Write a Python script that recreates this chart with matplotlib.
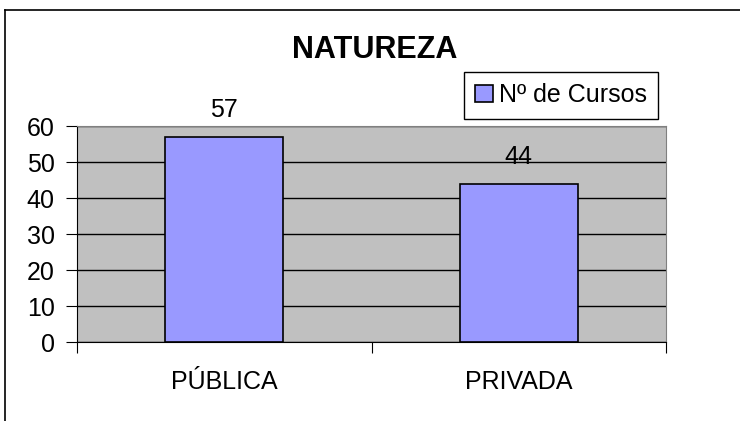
import matplotlib.pyplot as plt
from matplotlib.lines import Line2D

categorias = ['PÚBLICA', 'PRIVADA']
cursos = [57, 44]
serie = 'Nº de Cursos'
titulo = 'NATUREZA'

plt.rcParams['font.family'] = ['Liberation Sans', 'DejaVu Sans']
fs = 18

fig = plt.figure(figsize=(7.4, 4.21), dpi=100)
ax = fig.add_axes([77/740, 1 - 342/421, (666 - 77)/740, (342 - 126)/421])

# moldura externa (cortada na direita e embaixo)
fig.add_artist(Line2D([5/740, 1.0], [1 - 10/421, 1 - 10/421], color='black', lw=1.2))
fig.add_artist(Line2D([5/740, 5/740], [0, 1 - 10/421], color='black', lw=1.2))

ax.set_facecolor('#C0C0C0')
pos = list(range(len(categorias)))
barras = ax.bar(pos, cursos, width=0.4, color='#9999FF', edgecolor='black', linewidth=1.2, label=serie, zorder=3)

for b, v in zip(barras, cursos):
    ax.annotate(str(v), (b.get_x() + b.get_width()/2, v), xytext=(0, 14), textcoords='offset points',
                ha='center', va='baseline', fontsize=fs)

ax.set_xlim(-0.5, len(categorias) - 0.5)
ax.set_ylim(0, 60)
ax.set_yticks(range(0, 61, 10))
ax.yaxis.grid(True, color='black', lw=1, zorder=1)
ax.set_axisbelow(True)

ax.set_xticks([i - 0.5 for i in range(len(categorias) + 1)])
ax.set_xticklabels([])
ax.set_xticks(pos, minor=True)
ax.set_xticklabels(categorias, minor=True)
ax.tick_params(axis='x', which='major', direction='out', length=8, color='black')
ax.tick_params(axis='x', which='minor', length=0, pad=20, labelsize=fs)
ax.tick_params(axis='y', direction='out', length=8, labelsize=fs, pad=8)

ax.spines['top'].set_color('#808080')
ax.spines['right'].set_color('#808080')
ax.spines['left'].set_color('black')
ax.spines['bottom'].set_color('black')

fig.text(375/740, 1 - 58/421, titulo, ha='center', va='baseline', fontsize=22, fontweight='bold')

leg = ax.legend(loc='upper right', bbox_to_anchor=(658/740, 1 - 72/421), bbox_transform=fig.transFigure,
                fontsize=fs, frameon=True, fancybox=False, edgecolor='black', framealpha=1,
                handlelength=0.7, handleheight=0.7, handletextpad=0.25, borderpad=0.45, borderaxespad=0)
leg.get_frame().set_linewidth(1)

fig.savefig('out.png', dpi=100, facecolor='white')
